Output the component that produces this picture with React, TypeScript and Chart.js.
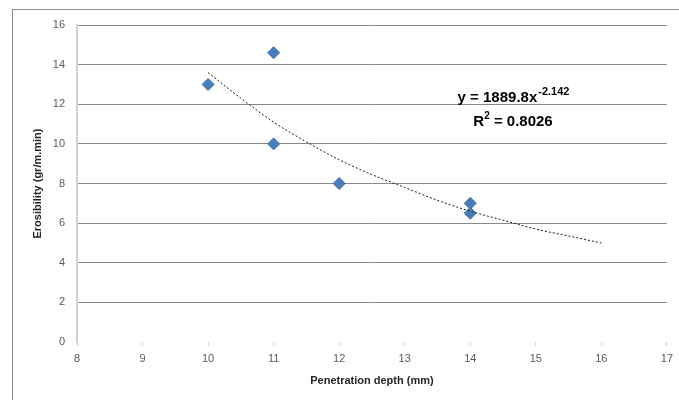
import React, { useEffect, useRef } from "react";
import { Chart, registerables } from "chart.js";

Chart.register(...registerables);

const depthValues = [10, 11, 11, 12, 14, 14];
const erosibilityValues = [13, 14.6, 10, 8, 7, 6.5];

const trendX = [10, 10.5, 11, 11.5, 12, 12.5, 13, 13.5, 14, 14.5, 15, 15.5, 16];
const trendY = [13.6, 12.3, 11.1, 10.1, 9.2, 8.45, 7.8, 7.15, 6.6, 6.15, 5.7, 5.35, 5.0];

const xTitle = "Penetration depth (mm)";
const yTitle = "Erosibility (gr/m.min)";
const eqMain = "y = 1889.8x";
const eqExp = "-2.142";
const r2Base = "R";
const r2Exp = "2";
const r2Rest = " = 0.8026";

const FONT = "'Liberation Sans', Arial, sans-serif";

const overlayPlugin = {
  id: "overlay",
  afterDraw(chart: any) {
    const ctx = chart.ctx;
    const ca = chart.chartArea;
    ctx.save();
    ctx.strokeStyle = "#8c8c8c";
    ctx.lineWidth = 1;
    ctx.strokeRect(12.5, 9.5, 800, 500);
    ctx.fillStyle = "#262626";
    ctx.font = `bold 11px ${FONT}`;
    ctx.textAlign = "center";
    ctx.textBaseline = "middle";
    ctx.fillText(xTitle, (ca.left + ca.right) / 2, 381);
    ctx.save();
    ctx.translate(38, (ca.top + ca.bottom) / 2);
    ctx.rotate(-Math.PI / 2);
    ctx.fillText(yTitle, 0, 0);
    ctx.restore();
    ctx.textAlign = "left";
    ctx.textBaseline = "alphabetic";
    ctx.fillStyle = "#000";
    ctx.font = `bold 15px ${FONT}`;
    const w1 = ctx.measureText(eqMain).width;
    ctx.font = `bold 11px ${FONT}`;
    const we = ctx.measureText(eqExp).width;
    const cx = 513;
    let x0 = cx - (w1 + we) / 2;
    ctx.font = `bold 15px ${FONT}`;
    ctx.fillText(eqMain, x0, 102);
    ctx.font = `bold 11px ${FONT}`;
    ctx.fillText(eqExp, x0 + w1 + 1, 95);
    ctx.font = `bold 15px ${FONT}`;
    const wr = ctx.measureText(r2Base).width;
    const wrest = ctx.measureText(r2Rest).width;
    ctx.font = `bold 10px ${FONT}`;
    const w2 = ctx.measureText(r2Exp).width;
    x0 = cx - (wr + w2 + wrest) / 2;
    ctx.font = `bold 15px ${FONT}`;
    ctx.fillText(r2Base, x0, 126);
    ctx.font = `bold 10px ${FONT}`;
    ctx.fillText(r2Exp, x0 + wr, 119);
    ctx.font = `bold 15px ${FONT}`;
    ctx.fillText(r2Rest, x0 + wr + w2, 126);
    ctx.restore();
  },
};

export default function App() {
  const ref = useRef<HTMLCanvasElement | null>(null);
  useEffect(() => {
    if (!ref.current) return;
    const chart = new Chart(ref.current, {
      type: "scatter",
      data: {
        datasets: [
          {
            label: "Trend",
            type: "line",
            data: trendX.map((x, i) => ({ x, y: trendY[i] })),
            borderColor: "#1a1a1a",
            borderWidth: 1,
            borderDash: [2, 2],
            pointRadius: 0,
            cubicInterpolationMode: "monotone",
            fill: false,
          } as any,
          {
            label: "Erosibility",
            data: depthValues.map((x, i) => ({ x, y: erosibilityValues[i] })),
            pointStyle: "rectRot",
            pointRadius: 6,
            backgroundColor: "#4A7EBB",
            borderColor: "#3D6DA8",
            borderWidth: 1,
          },
        ],
      },
      options: {
        animation: false,
        responsive: false,
        devicePixelRatio: 1,
        layout: { padding: { top: 25, right: 8, left: 0, bottom: 0 } },
        plugins: { legend: { display: false }, tooltip: { enabled: false } },
        scales: {
          x: {
            type: "linear",
            min: 8,
            max: 17,
            ticks: { stepSize: 1, color: "#595959", font: { size: 11, family: FONT }, padding: 6 },
            grid: { drawOnChartArea: false, drawTicks: true, tickLength: 4, color: "#d0d0d0" },
            border: { display: false },
            afterFit: (s: any) => { s.height = 58; },
          },
          y: {
            min: 0,
            max: 16,
            ticks: { stepSize: 2, color: "#595959", font: { size: 11, family: FONT }, padding: 12 },
            grid: {
              drawTicks: false,
              color: (c: any) => (c.tick && c.tick.value === 0 ? "rgba(0,0,0,0)" : "#878787"),
            },
            border: { display: true, color: "#d0d0d0", width: 2 },
            afterFit: (s: any) => { s.width = 77; },
          },
        },
      },
      plugins: [overlayPlugin],
    });
    return () => chart.destroy();
  }, []);
  return (
    <div style={{ position: "fixed", left: 0, top: 0, width: 679, height: 400, background: "#fff" }}>
      <canvas ref={ref} width={679} height={400} style={{ width: 679, height: 400 }} />
    </div>
  );
}
